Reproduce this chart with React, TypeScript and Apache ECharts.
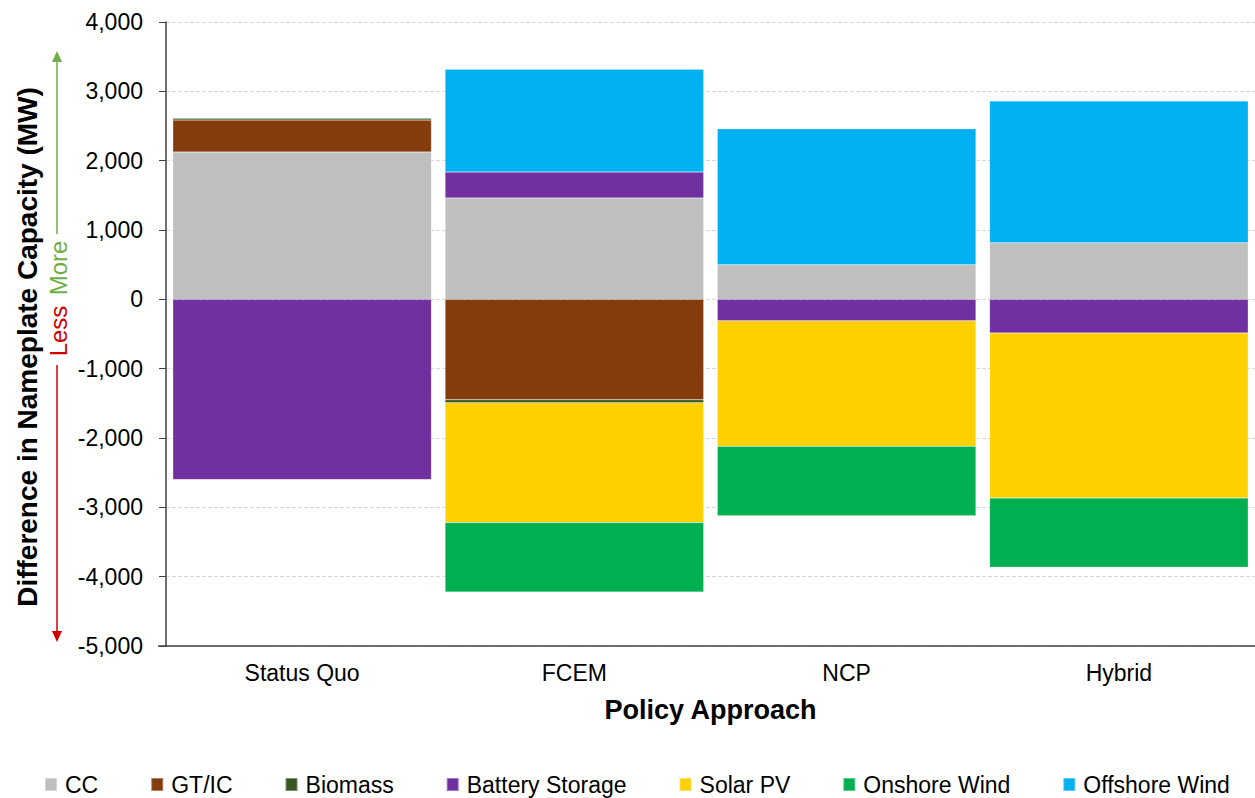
import React, { useEffect, useRef } from "react";
import * as echarts from "echarts";

const categories = ["Status Quo", "FCEM", "NCP", "Hybrid"];
const seriesNames = ["CC", "GT/IC", "Biomass", "Battery Storage", "Solar PV", "Onshore Wind", "Offshore Wind"];
const ccValues = [2125, 1460, 500, 815];
const gticValues = [460, -1450, null, null];
const biomassValues = [25, -40, null, null];
const batteryValues = [-2600, 375, -310, -485];
const solarValues = [null, -1730, -1810, -2380];
const onshoreValues = [null, -1000, -1000, -1000];
const offshoreValues = [null, 1485, 1960, 2045];
const seriesColors = ["#BFBFBF", "#843C0C", "#375623", "#7030A0", "#FFD000", "#00B050", "#00B0F0"];
const yTicks = { min: -5000, max: 4000, interval: 1000 };

const FONT = "Liberation Sans, Arial, sans-serif";

export default function App() {
  const ref = useRef<HTMLDivElement>(null);
  useEffect(() => {
    if (!ref.current) return;
    const chart = echarts.init(ref.current, null, { renderer: "svg" });
    const allValues = [ccValues, gticValues, biomassValues, batteryValues, solarValues, onshoreValues, offshoreValues];
    const series = seriesNames.map((name, i) => ({
      name,
      type: "bar",
      stack: "total",
      data: allValues[i],
      barCategoryGap: "5%",
      itemStyle: { color: seriesColors[i], borderColor: "rgba(255,255,255,0.35)", borderWidth: 0.5 },
    }));
    chart.setOption({
      animation: false,
      textStyle: { fontFamily: FONT },
      grid: { left: 166, top: 22, width: 1093, height: 624, containLabel: false },
      legend: {
        data: seriesNames,
        left: 44,
        top: 773,
        padding: 0,
        icon: "rect",
        itemWidth: 12,
        itemHeight: 13,
        itemGap: 52,
        textStyle: { fontSize: 23, color: "#000", fontFamily: FONT, padding: [0, 0, 0, 3] },
      },
      xAxis: {
        type: "category",
        data: categories,
        name: "Policy Approach",
        nameLocation: "middle",
        nameGap: 50,
        nameTextStyle: { fontSize: 27, fontWeight: "bold", color: "#000", fontFamily: FONT },
        axisLine: { onZero: false, lineStyle: { color: "#404040", width: 1.5 } },
        axisTick: { alignWithLabel: true, length: 5, lineStyle: { color: "#404040" } },
        axisLabel: { fontSize: 23, color: "#000", margin: 15, fontFamily: FONT },
      },
      yAxis: {
        type: "value",
        min: yTicks.min,
        max: yTicks.max,
        interval: yTicks.interval,
        axisLine: { show: true, lineStyle: { color: "#404040", width: 1.5 } },
        axisTick: { show: true, length: 7, lineStyle: { color: "#404040" } },
        axisLabel: {
          fontSize: 23,
          color: "#000",
          margin: 23,
          fontFamily: FONT,
          formatter: (v: number) => v.toLocaleString("en-US"),
        },
        splitLine: { show: true, lineStyle: { color: "#D9D9D9", type: "dashed" } },
      },
      graphic: [
        { type: "line", shape: { x1: 158, y1: 646, x2: 166, y2: 646 }, style: { stroke: "#404040", lineWidth: 1.5 } },
        {
          type: "text",
          x: 27,
          y: 347,
          rotation: Math.PI / 2,
          style: { text: "Difference in Nameplate Capacity (MW)", font: `bold 28px ${FONT}`, fill: "#000", align: "center", verticalAlign: "middle" },
        },
        { type: "line", shape: { x1: 57, y1: 60, x2: 57, y2: 234 }, style: { stroke: "#70AD47", lineWidth: 1.5 } },
        { type: "polygon", shape: { points: [[52, 62], [62, 62], [57, 51]] }, style: { fill: "#70AD47" } },
        {
          type: "text",
          x: 58,
          y: 268,
          rotation: Math.PI / 2,
          style: { text: "More", font: `24px ${FONT}`, fill: "#70AD47", align: "center", verticalAlign: "middle" },
        },
        {
          type: "text",
          x: 58,
          y: 331,
          rotation: Math.PI / 2,
          style: { text: "Less", font: `24px ${FONT}`, fill: "#D00000", align: "center", verticalAlign: "middle" },
        },
        { type: "line", shape: { x1: 57, y1: 365, x2: 57, y2: 632 }, style: { stroke: "#D00000", lineWidth: 1.5 } },
        { type: "polygon", shape: { points: [[52, 631], [62, 631], [57, 642]] }, style: { fill: "#D00000" } },
      ],
      series,
    });
    return () => chart.dispose();
  }, []);
  return <div ref={ref} style={{ position: "absolute", left: 0, top: 0, width: 1255, height: 798 }} />;
}
